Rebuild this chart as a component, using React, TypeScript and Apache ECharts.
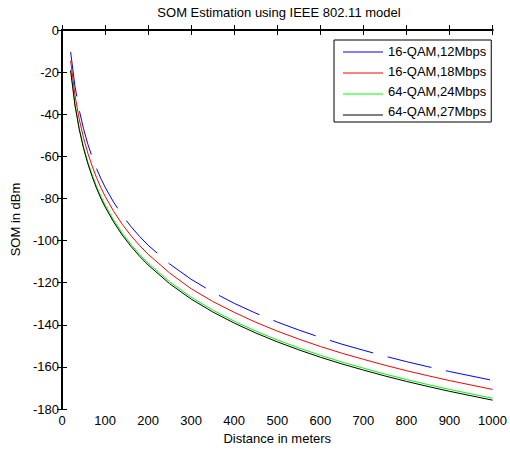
import React, { useEffect, useRef } from "react";
import * as echarts from "echarts";

const distances = [20, 30, 40, 50, 60, 70, 80, 90, 100, 120, 140, 160, 180, 200, 250, 300, 350, 400, 450, 500, 550, 600, 650, 700, 750, 800, 850, 900, 950, 1000];
const qam16_12 = [-10.4, -26.6, -38.0, -46.9, -54.2, -60.3, -65.7, -70.4, -74.6, -81.8, -88.0, -93.3, -98.0, -102.2, -111.1, -118.4, -124.5, -129.8, -134.5, -138.7, -142.5, -146.0, -149.2, -152.1, -154.9, -157.5, -159.9, -162.2, -164.3, -166.4];
const qam16_18 = [-14.6, -30.9, -42.3, -51.2, -58.5, -64.6, -70.0, -74.7, -78.9, -86.1, -92.3, -97.6, -102.3, -106.5, -115.4, -122.9, -128.9, -134.1, -138.8, -143.0, -146.8, -150.3, -153.5, -156.4, -159.2, -161.8, -164.2, -166.5, -168.6, -170.7];
const qam64_24 = [-19.0, -35.1, -46.5, -55.4, -62.7, -68.8, -74.2, -78.9, -83.1, -90.3, -96.5, -101.8, -106.5, -110.7, -119.6, -126.9, -133.0, -138.3, -143.0, -147.2, -151.0, -154.5, -157.7, -160.6, -163.4, -166.0, -168.4, -170.7, -172.8, -174.9];
const qam64_27 = [-19.2, -35.6, -47.2, -56.2, -63.5, -69.6, -75.1, -79.8, -84.0, -91.2, -97.4, -102.7, -107.4, -111.6, -120.5, -127.8, -133.9, -139.2, -143.9, -148.1, -151.9, -155.4, -158.6, -161.5, -164.3, -166.9, -169.3, -171.6, -173.7, -175.8];
const seriesNames = ["16-QAM,12Mbps", "16-QAM,18Mbps", "64-QAM,24Mbps", "64-QAM,27Mbps"];
const seriesColors = ["#0000ff", "#ff0000", "#00ff00", "#000000"];

const FONT = "'Liberation Sans', Arial, Helvetica, sans-serif";

export default function App() {
  const ref = useRef<HTMLDivElement>(null);
  useEffect(() => {
    if (!ref.current) return;
    const chart = echarts.init(ref.current, undefined, { renderer: "svg" });
    const pair = (ys: number[]) => distances.map((d, i) => [d, ys[i]]);
    const mk = (idx: number, ys: number[], type: any) => ({
      name: seriesNames[idx],
      type: "line",
      data: pair(ys),
      symbol: "none",
      color: seriesColors[idx],
      lineStyle: { color: seriesColors[idx], width: 1, type },
      itemStyle: { color: seriesColors[idx] },
    });
    const axisLine = { show: true, lineStyle: { color: "#000", width: 2 } };
    const axisTick = { show: true, inside: true, length: 5, lineStyle: { color: "#000", width: 1 } };
    const legendTop = 40;
    const legendRow0 = legendTop + 5 + 7;
    const legendRowStep = 21;
    chart.setOption({
      animation: false,
      backgroundColor: "#fff",
      textStyle: { fontFamily: FONT },
      title: {
        text: "SOM Estimation using IEEE 802.11 model",
        left: 279,
        textAlign: "center",
        top: 6,
        padding: 0,
        textStyle: { fontSize: 13, fontWeight: "normal", color: "#000", fontFamily: FONT },
      },
      legend: {
        orient: "vertical",
        left: 334,
        top: legendTop,
        padding: [5, 5, 4, 8],
        itemWidth: 40,
        itemHeight: 14,
        itemGap: 7,
        borderColor: "#000",
        borderWidth: 1,
        backgroundColor: "#fff",
        itemStyle: { opacity: 0 },
        lineStyle: { opacity: 0 },
        textStyle: { fontSize: 13, color: "#000", fontFamily: FONT },
        data: seriesNames,
      },
      graphic: seriesColors.map((c, i) => ({
        type: "line",
        z: 100,
        zlevel: 0,
        shape: { x1: 343, y1: legendRow0 + i * legendRowStep, x2: 383, y2: legendRow0 + i * legendRowStep },
        style: { stroke: c, lineWidth: 1 },
        silent: true,
      })),
      grid: { left: 62, right: 14, top: 30, bottom: 41 },
      xAxis: [
        {
          type: "value",
          min: 0,
          max: 1000,
          interval: 100,
          position: "bottom",
          name: "Distance in meters",
          nameLocation: "middle",
          nameGap: 22,
          nameTextStyle: { fontSize: 13, color: "#000", fontFamily: FONT },
          axisLine,
          axisTick,
          axisLabel: { fontSize: 13, color: "#000", margin: 5, fontFamily: FONT, formatter: (v: number) => String(v) },
          splitLine: { show: false },
        },
        {
          type: "value",
          min: 0,
          max: 1000,
          interval: 100,
          position: "top",
          axisLine,
          axisTick,
          axisLabel: { show: false },
          splitLine: { show: false },
        },
      ],
      yAxis: [
        {
          type: "value",
          min: -180,
          max: 0,
          interval: 20,
          position: "left",
          name: "SOM in dBm",
          nameLocation: "middle",
          nameGap: 37,
          nameTextStyle: { fontSize: 13, color: "#000", fontFamily: FONT },
          axisLine,
          axisTick,
          axisLabel: { fontSize: 13, color: "#000", margin: 3, fontFamily: FONT, formatter: (v: number) => String(v) },
          splitLine: { show: false },
        },
        {
          type: "value",
          min: -180,
          max: 0,
          interval: 20,
          position: "right",
          axisLine,
          axisTick,
          axisLabel: { show: false },
          splitLine: { show: false },
        },
      ],
      series: [
        mk(0, qam16_12, [45, 15]),
        mk(1, qam16_18, "solid"),
        mk(2, qam64_24, "solid"),
        mk(3, qam64_27, "solid"),
      ],
    });
    return () => chart.dispose();
  }, []);
  return (
    <div
      ref={ref}
      style={{ position: "absolute", left: 0, top: 0, width: 510, height: 450, background: "#fff" }}
    />
  );
}
